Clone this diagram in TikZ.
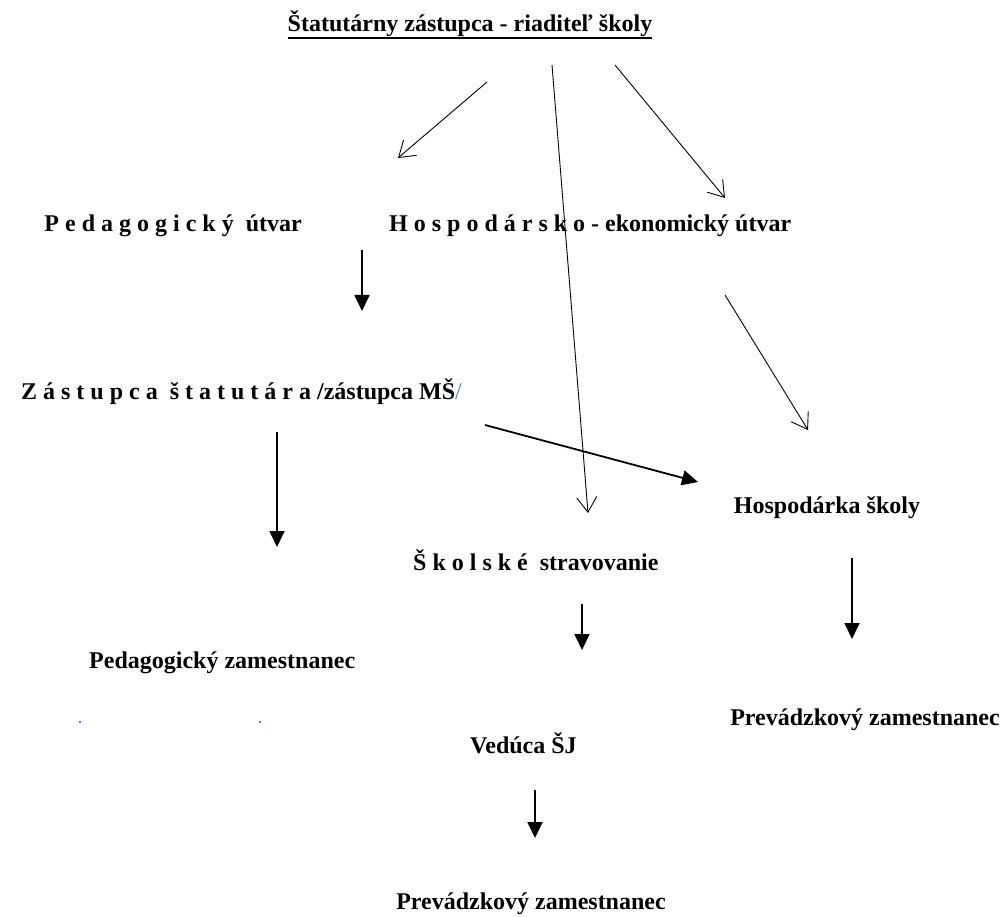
\documentclass[tikz,border=0pt]{standalone}
\usepackage{fontspec}
\setmainfont{Liberation Serif}
\usetikzlibrary{arrows.meta}
\definecolor{dotblue}{RGB}{80,125,215}
\begin{document}
\begin{tikzpicture}[x=1pt,y=-1pt,
  lbl/.style={font=\fontsize{24}{28}\selectfont\bfseries, inner sep=0pt},
  thinarr/.style={line width=0.9pt, -{Straight Barb[length=15pt,width=20pt]}},
  thickarr/.style={line width=1.8pt, -{Triangle[length=16pt,width=15pt]}},
  bdot/.style={fill=dotblue, inner sep=0pt, minimum size=2.5pt}]
\useasboundingbox (0,0) rectangle (1004,917);

% texts
\node[lbl, anchor=base] (title) at (470,31.5) {Štatutárny zástupca - riaditeľ školy};
\draw[line width=2pt] (title.base west) ++(0,7) coordinate (u1) -- (title.base east |- u1);

\node[lbl, anchor=base east] (ped) at (302,232) {P e d a g o g i c k ý~~útvar};
\node[lbl, anchor=base west] (hosp) at (389,232) {H o s p o d á r s k o - ekonomický útvar};
\node[lbl, anchor=base east] (zast) at (462,399) {Z á s t u p c a~~š t a t u t á r a /zástupca MŠ\textcolor{dotblue}{\mdseries /}};
\node[lbl, anchor=base] (hsk) at (827,513) {Hospodárka školy};
\node[lbl, anchor=base west] (sks) at (413,570) {Š k o l s k é~~stravovanie};
\node[lbl, anchor=base west] (pz) at (89,668) {Pedagogický zamestnanec};
\node[bdot] (d1) at (80,722) {};
\node[bdot] (d2) at (260,722) {};
\node[lbl, anchor=base east] (pr1) at (1000,725) {Prevádzkový zamestnanec};
\node[lbl, anchor=base west] (ved) at (470,753) {Vedúca ŠJ};
\node[lbl, anchor=base] (pr2) at (531,909) {Prevádzkový zamestnanec};

% arrow end points
\coordinate (a1s) at (487,82);  \coordinate (a1e) at (398,158);
\coordinate (a2s) at (552,65);  \coordinate (a2e) at (588,513);
\coordinate (a3s) at (615,65);  \coordinate (a3e) at (725,198);
\coordinate (a4s) at (362,250); \coordinate (a4e) at (362,311);
\coordinate (a5s) at (725,295); \coordinate (a5e) at (808,430);
\coordinate (a6s) at (485,425); \coordinate (a6e) at (698,482);
\coordinate (a7s) at (277,432); \coordinate (a7e) at (277,547);
\coordinate (a8s) at (582,604); \coordinate (a8e) at (582,650);
\coordinate (a9s) at (852,558); \coordinate (a9e) at (852,639);
\coordinate (a10s) at (535,790); \coordinate (a10e) at (535,838);

\draw[thinarr] (a1s) -- (a1e);
\draw[thinarr] (a2s) -- (a2e);
\draw[thinarr] (a3s) -- (a3e);
\draw[thickarr] (a4s) -- (a4e);
\draw[thinarr] (a5s) -- (a5e);
\draw[thickarr] (a6s) -- (a6e);
\draw[thickarr] (a7s) -- (a7e);
\draw[thickarr] (a8s) -- (a8e);
\draw[thickarr] (a9s) -- (a9e);
\draw[thickarr] (a10s) -- (a10e);
\end{tikzpicture}
\end{document}
